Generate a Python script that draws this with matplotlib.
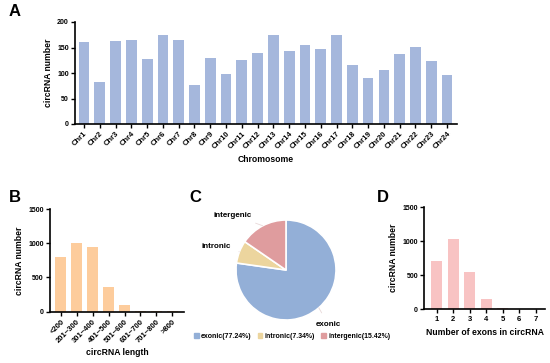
import matplotlib
matplotlib.use("Agg")
import matplotlib.pyplot as plt
import numpy as np

plt.rcParams['font.family'] = ['Liberation Sans', 'DejaVu Sans']
plt.rcParams['font.weight'] = 'bold'

# Panel A data
chromosomes = [f"Chr{i}" for i in range(1, 25)]
chr_counts = [160, 82, 162, 165, 128, 175, 165, 77, 130, 99, 125, 140,
              175, 144, 154, 148, 174, 116, 91, 106, 137, 151, 124, 96]

# Panel B data
length_bins = ["<200", "201~300", "301~400", "401~500", "501~600", "601~700", "701~800", ">800"]
length_counts = [805, 1003, 950, 365, 100, 8, 4, 3]

# Panel C data
region_types = ["exonic", "intronic", "intergenic"]
region_pct = [77.24, 7.34, 15.42]

# Panel D data
exon_numbers = ["1", "2", "3", "4", "5", "6", "7"]
exon_counts = [710, 1033, 555, 150, 22, 5, 3]

W, H = 550, 363
fig = plt.figure(figsize=(5.5, 3.63), dpi=100)

def px_axes(x0, y0, x1, y1):
    return fig.add_axes([x0 / W, 1 - y1 / H, (x1 - x0) / W, (y1 - y0) / H])

def style(ax):
    for s in ['top', 'right']:
        ax.spines[s].set_visible(False)
    for s in ['left', 'bottom']:
        ax.spines[s].set_linewidth(1.2)
    ax.tick_params(axis='both', length=3, width=1.0, pad=1.5)
    ax.tick_params(axis='x', labelsize=5.5)
    ax.tick_params(axis='y', labelsize=5)
    for lab in ax.get_xticklabels() + ax.get_yticklabels():
        lab.set_fontweight('bold')

LBL = 6.2

# Panel A
axA = px_axes(75, 22, 457, 124)
xa = np.arange(len(chromosomes))
axA.bar(xa, chr_counts, width=0.68, color='#A5B7DC')
axA.set_xlim(-0.57, len(chromosomes) - 1 + 0.63)
axA.set_ylim(0, 200)
axA.set_yticks([0, 50, 100, 150, 200])
axA.set_xticks(xa)
axA.set_xticklabels(chromosomes, rotation=45, ha='right', rotation_mode='anchor')
style(axA)
axA.set_ylabel("circRNA number", fontsize=LBL, fontweight='bold', labelpad=3)
axA.set_xlabel("Chromosome", fontsize=LBL, fontweight='bold', labelpad=3)

# Panel B
axB = px_axes(50, 209, 184, 311.7)
xb = np.arange(len(length_bins))
axB.bar(xb, length_counts, width=0.69, color='#FDCC9C')
axB.set_xlim(-0.69, len(length_bins) - 1 + 0.74)
axB.set_ylim(0, 1500)
axB.set_yticks([0, 500, 1000, 1500])
axB.set_xticks(xb)
axB.set_xticklabels(length_bins, rotation=45, ha='right', rotation_mode='anchor')
style(axB)
axB.set_ylabel("circRNA number", fontsize=LBL, fontweight='bold', labelpad=3)
axB.set_xlabel("circRNA length", fontsize=LBL, fontweight='bold', labelpad=3)

# Panel D
axD = px_axes(424.3, 207.3, 545, 309.3)
xd = np.arange(len(exon_numbers))
axD.bar(xd, exon_counts, width=0.65, color='#F8C3C3')
axD.set_xlim(-0.75, len(exon_numbers) - 1 + 0.56)
axD.set_ylim(0, 1500)
axD.set_yticks([0, 500, 1000, 1500])
axD.set_xticks(xd)
axD.set_xticklabels(exon_numbers)
style(axD)
axD.set_ylabel("circRNA number", fontsize=LBL, fontweight='bold', labelpad=3)
axD.set_xlabel("Number of exons in circRNA", fontsize=LBL, fontweight='bold', labelpad=4)

# Panel C
axC = px_axes(286 - 55, 270 - 55, 286 + 55, 270 + 55)
pie_colors = ['#93AFD7', '#ECD59E', '#DF9C9E']
wedges, _ = axC.pie(region_pct, colors=pie_colors, startangle=90, counterclock=False,
                    wedgeprops=dict(edgecolor='white', linewidth=1.2), radius=1)
axC.set_xlim(-1.1, 1.1)
axC.set_ylim(-1.1, 1.1)
axC.set_aspect('equal')
label_pos = {"exonic": (0.84, -1.08), "intronic": (-1.40, 0.48), "intergenic": (-1.06, 1.10)}
for w, name in zip(wedges, region_types):
    ang = np.deg2rad((w.theta1 + w.theta2) / 2)
    xy = (np.cos(ang), np.sin(ang))
    tx, ty = label_pos[name]
    axC.annotate(name, xy=xy, xytext=(tx, ty), fontsize=5.8, fontweight='bold',
                 ha='center', va='center', annotation_clip=False,
                 arrowprops=dict(arrowstyle='-', color='#E8D8D8', lw=0.6,
                                 shrinkA=4, shrinkB=0))

handles = [plt.Rectangle((0, 0), 1, 1, color=c) for c in pie_colors]
leg_labels = [f"{n}({p:.2f}%)" for n, p in zip(region_types, region_pct)]
fig.legend(handles, leg_labels, loc='center', bbox_to_anchor=(292 / W, 1 - 336 / H),
           ncol=3, frameon=False, handlelength=0.7, handleheight=0.7,
           handletextpad=0.3, columnspacing=0.9, prop=dict(size=5, weight='bold'))

# Panel letters
for letter, (x, y) in {"A": (9, 12), "B": (9, 198), "C": (189, 198), "D": (377, 198)}.items():
    fig.text(x / W, 1 - y / H, letter, fontsize=12, fontweight='bold', ha='left', va='center')

fig.savefig("out.png", dpi=100)
